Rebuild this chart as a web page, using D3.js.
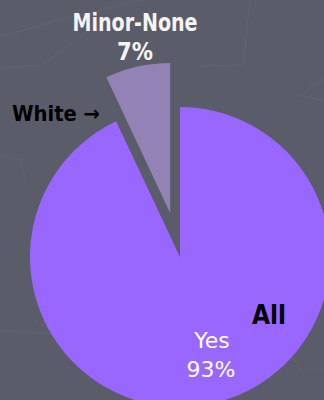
<!DOCTYPE html>
<html>
<head>
<meta charset="utf-8">
<script src="https://cdn.jsdelivr.net/npm/d3@7"></script>
<style>
    html, body { margin: 0; padding: 0; background: #5b5c69; }
    svg { display: block; }
</style>
</head>
<body>
<div id="chart"></div>
<script>
// Chart data
const categories = ["Yes", "Minor-None"];
const percents = [93, 7];
const sliceColors = ["#9966ff", "#9282b6"];
const sideLabels = ["White \u2192", "All"];

function createPieChart(selector = "#chart") {
    const width = 324;
    const height = 400;
    const radius = 150;
    const center = { x: 180, y: 257 };
    const explode = 45;

    const svg = d3.select(selector)
        .append("svg")
        .attr("width", width)
        .attr("height", height);

    // Background
    svg.append("rect")
        .attr("width", width)
        .attr("height", height)
        .attr("fill", "#5b5c69");

    // Faint decorative lines in the background
    const bgLines = [
        [[0, 35], [10, 34], [60, 20], [140, 0]],
        [[0, 68], [42, 65], [90, 30]],
        [[250, 0], [243, 65], [200, 66]],
        [[324, 78], [300, 96], [324, 100]],
        [[0, 155], [20, 160], [26, 180]],
        [[292, 355], [300, 370], [324, 370]],
        [[0, 330], [60, 335], [34, 320]]
    ];
    svg.append("g")
        .selectAll("path")
        .data(bgLines)
        .join("path")
        .attr("d", d3.line())
        .attr("fill", "none")
        .attr("stroke", "rgba(255,255,255,0.05)")
        .attr("stroke-width", 1);

    const pie = d3.pie()
        .sort(null)
        .startAngle(0)
        .endAngle(2 * Math.PI);

    const arc = d3.arc()
        .innerRadius(0)
        .outerRadius(radius);

    const arcs = pie(percents);

    const g = svg.append("g")
        .attr("transform", `translate(${center.x},${center.y})`);

    // Slices, the small one pulled out along its bisector
    g.selectAll("path.slice")
        .data(arcs)
        .join("path")
        .attr("class", "slice")
        .attr("d", arc)
        .attr("fill", (d, i) => sliceColors[i])
        .attr("transform", (d, i) => {
            if (i === 0) return null;
            const mid = (d.startAngle + d.endAngle) / 2;
            return `translate(${Math.sin(mid) * explode},${-Math.cos(mid) * explode})`;
        });

    // Minor-None label above the exploded slice
    svg.append("text")
        .attr("x", 135)
        .attr("y", 31)
        .attr("text-anchor", "middle")
        .attr("textLength", 125)
        .attr("lengthAdjust", "spacingAndGlyphs")
        .style("font-family", "DejaVu Sans")
        .style("font-weight", "bold")
        .style("font-size", "24px")
        .style("fill", "#f4f4f4")
        .text(categories[1]);

    svg.append("text")
        .attr("x", 135)
        .attr("y", 60)
        .attr("text-anchor", "middle")
        .attr("textLength", 36)
        .attr("lengthAdjust", "spacingAndGlyphs")
        .style("font-family", "DejaVu Sans")
        .style("font-weight", "bold")
        .style("font-size", "24px")
        .style("fill", "#f4f4f4")
        .text(percents[1] + "%");

    // Yes label inside the big slice
    svg.append("text")
        .attr("x", 212)
        .attr("y", 348)
        .attr("text-anchor", "middle")
        .style("font-family", "DejaVu Sans")
        .style("font-size", "22px")
        .style("fill", "#ffffff")
        .text(categories[0]);

    svg.append("text")
        .attr("x", 211)
        .attr("y", 377)
        .attr("text-anchor", "middle")
        .style("font-family", "DejaVu Sans")
        .style("font-size", "22px")
        .style("fill", "#ffffff")
        .text(percents[0] + "%");

    // Black side labels
    svg.append("text")
        .attr("x", 12)
        .attr("y", 121)
        .attr("textLength", 88)
        .attr("lengthAdjust", "spacingAndGlyphs")
        .style("font-family", "DejaVu Sans")
        .style("font-weight", "bold")
        .style("font-size", "21px")
        .style("fill", "#000000")
        .text(sideLabels[0]);

    svg.append("text")
        .attr("x", 252)
        .attr("y", 324)
        .attr("textLength", 34)
        .attr("lengthAdjust", "spacingAndGlyphs")
        .style("font-family", "DejaVu Sans")
        .style("font-weight", "bold")
        .style("font-size", "26px")
        .style("fill", "#000000")
        .text(sideLabels[1]);
}

createPieChart();
</script>
</body>
</html>
